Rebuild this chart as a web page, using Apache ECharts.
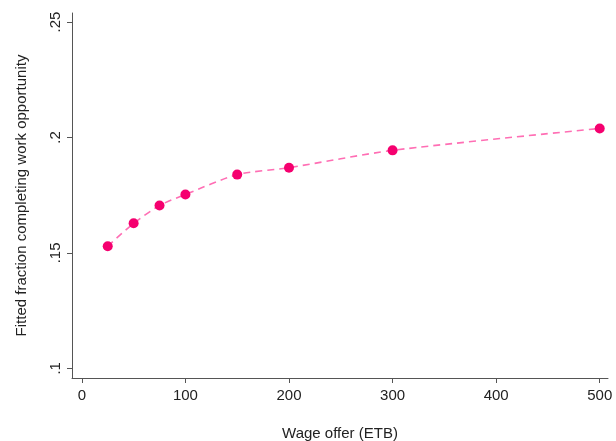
<!DOCTYPE html>
<html>
<head>
<meta charset="utf-8">
<script src="https://cdn.jsdelivr.net/npm/echarts@6/dist/echarts.min.js"></script>
<style>
  html, body { margin: 0; padding: 0; background: #fff; }
  #chart { width: 616px; height: 441px; }
</style>
</head>
<body>
<div id="chart"></div>
<script>
// wage offers (ETB) and fitted fraction completing
var wages = [25, 50, 75, 100, 150, 200, 300, 500];
var fitted = [0.1529, 0.1628, 0.1705, 0.1753, 0.1839, 0.1869, 0.1944, 0.2039];
var xTicks = [0, 100, 200, 300, 400, 500];
var yTicks = [0.1, 0.15, 0.2, 0.25];

var chart = echarts.init(document.getElementById('chart'));
var font = 'Liberation Sans, Arial, sans-serif';

chart.setOption({
  animation: false,
  backgroundColor: '#fff',
  grid: { left: 72, right: 8, top: 13, bottom: 63, outerBoundsMode: 'none', containLabel: false },
  xAxis: {
    type: 'value',
    min: -9.5,
    max: 508,
    name: 'Wage offer (ETB)',
    nameLocation: 'middle',
    nameGap: 48,
    nameTextStyle: { color: '#222', fontSize: 15, fontFamily: font },
    splitLine: { show: false },
    axisLine: { show: true, onZero: false, lineStyle: { color: '#555', width: 1 } },
    axisTick: { show: true, length: 5, customValues: xTicks, lineStyle: { color: '#555' } },
    axisLabel: {
      customValues: xTicks,
      color: '#222', fontSize: 15, fontFamily: font, margin: 10
    }
  },
  yAxis: {
    type: 'value',
    min: 0.0958,
    max: 0.2539,
    name: 'Fitted fraction completing work opportunity',
    nameLocation: 'middle',
    nameGap: 43,
    nameTextStyle: { color: '#222', fontSize: 15, fontFamily: font },
    splitLine: { show: false },
    axisLine: { show: true, onZero: false, lineStyle: { color: '#555', width: 1 } },
    axisTick: { show: true, length: 5, customValues: yTicks, lineStyle: { color: '#555' } },
    axisLabel: {
      customValues: yTicks,
      rotate: 90,
      color: '#222', fontSize: 15, fontFamily: font, margin: 9,
      formatter: function (v) { return String(+v.toFixed(2)).replace(/^0/, ''); }
    }
  },
  series: [{
    type: 'line',
    data: wages.map(function (w, i) { return [w, fitted[i]]; }),
    smooth: 0.25,
    symbol: 'circle',
    symbolSize: 10,
    itemStyle: { color: '#f5006f' },
    lineStyle: { color: '#ff6eb4', width: 1.6, type: [7, 5] }
  }]
});
</script>
</body>
</html>
